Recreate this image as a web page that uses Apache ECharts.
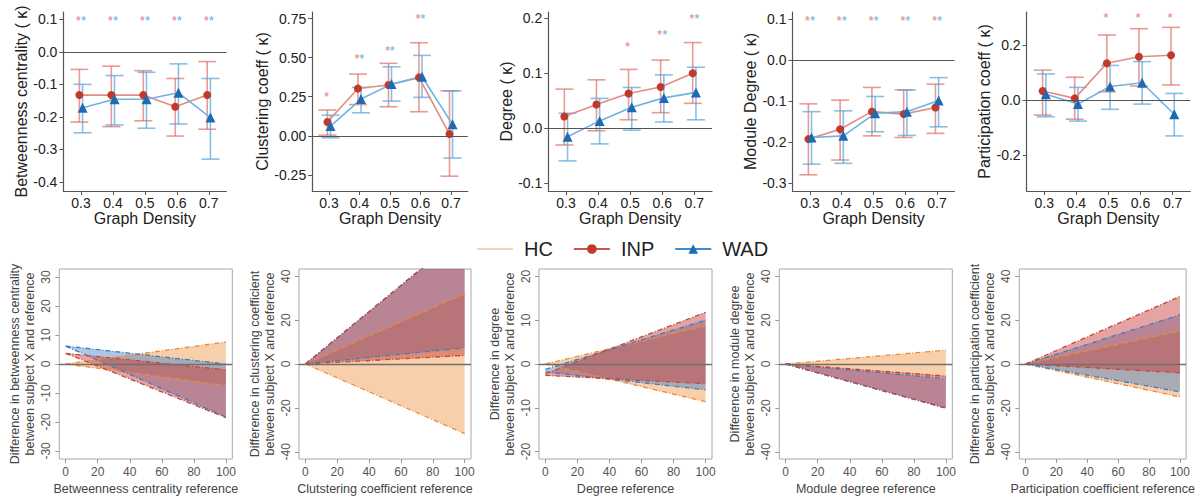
<!DOCTYPE html>
<html><head><meta charset="utf-8">
<script src="https://cdn.jsdelivr.net/npm/echarts@6/dist/echarts.min.js"></script>
<style>html,body{margin:0;padding:0;background:#fff}#c{width:1197px;height:504px}</style>
</head><body><div id="c"></div>
<script>
// ---------- top row: kappa by graph density ----------
const densities = [0.3, 0.4, 0.5, 0.6, 0.7];

const btwINP   = [-0.133, -0.133, -0.133, -0.169, -0.133];
const btwINPlo = [-0.216, -0.230, -0.212, -0.259, -0.238];
const btwINPhi = [-0.054, -0.044, -0.058, -0.082, -0.030];
const btwWAD   = [-0.172, -0.146, -0.146, -0.126, -0.202];
const btwWADlo = [-0.249, -0.225, -0.235, -0.222, -0.330];
const btwWADhi = [-0.100, -0.073, -0.063, -0.037, -0.082];
const btwStarINP = [0.1, 0.1, 0.1, 0.1, 0.1];
const btwStarWAD = [0.1, 0.1, 0.1, 0.1, 0.1];
const btwTicks = [-0.4, -0.3, -0.2, -0.1, 0, 0.1];

const cluINP   = [0.088, 0.303, 0.325, 0.374, 0.011];
const cluINPlo = [0.004, 0.200, 0.186, 0.154, -0.259];
const cluINPhi = [0.165, 0.395, 0.464, 0.596, 0.288];
const cluWAD   = [0.062, 0.235, 0.331, 0.378, 0.073];
const cluWADlo = [-0.013, 0.147, 0.222, 0.246, -0.143];
const cluWADhi = [0.132, 0.310, 0.442, 0.515, 0.288];
const cluStarINP = [0.26, 0.506, 0.556, 0.759, null];
const cluStarWAD = [null, 0.506, 0.556, 0.759, null];
const cluTicks = [-0.25, 0, 0.25, 0.5, 0.75];

const degINP   = [0.021, 0.043, 0.063, 0.075, 0.100];
const degINPlo = [-0.031, -0.005, 0.015, 0.028, 0.045];
const degINPhi = [0.071, 0.088, 0.107, 0.124, 0.156];
const degWAD   = [-0.016, 0.013, 0.038, 0.055, 0.065];
const degWADlo = [-0.060, -0.029, -0.004, 0.011, 0.015];
const degWADhi = [0.027, 0.054, 0.074, 0.097, 0.111];
const degStarINP = [null, null, 0.152, 0.173, 0.202];
const degStarWAD = [null, null, null, 0.173, 0.202];
const degTicks = [-0.1, 0, 0.1, 0.2];

const modINP   = [-0.193, -0.169, -0.126, -0.132, -0.116];
const modINPlo = [-0.280, -0.244, -0.185, -0.189, -0.179];
const modINPhi = [-0.107, -0.098, -0.067, -0.073, -0.059];
const modWAD   = [-0.189, -0.185, -0.130, -0.126, -0.099];
const modWADlo = [-0.254, -0.252, -0.175, -0.184, -0.163];
const modWADhi = [-0.126, -0.124, -0.089, -0.073, -0.043];
const modStarINP = [0.1, 0.1, 0.1, 0.1, 0.1];
const modStarWAD = [0.1, 0.1, 0.1, 0.1, 0.1];
const modTicks = [-0.3, -0.2, -0.1, 0, 0.1];

const parINP   = [0.033, 0.006, 0.134, 0.158, 0.163];
const parINPlo = [-0.055, -0.070, 0.030, 0.051, 0.055];
const parINPhi = [0.109, 0.083, 0.237, 0.260, 0.265];
const parWAD   = [0.021, -0.015, 0.049, 0.063, -0.052];
const parWADlo = [-0.061, -0.077, -0.034, -0.015, -0.131];
const parWADhi = [0.095, 0.046, 0.126, 0.140, 0.024];
const parStarINP = [null, null, 0.306, 0.306, 0.306];
const parStarWAD = [null, null, null, null, null];
const parTicks = [-0.2, 0, 0.2];

// ---------- bottom row: difference vs reference (band ends at reference 0 and 100) ----------
const refX = [0, 100];
const refTicks = [0, 20, 40, 60, 80, 100];

const bBtwHClo = [0, -7.4],  bBtwHChi = [0, 7.6];
const bBtwINPlo = [3.7, -18.5], bBtwINPhi = [3.7, -2.0];
const bBtwWADlo = [6.2, -18.3], bBtwWADhi = [6.2, 0.0];
const bBtwTicks = [-30, -20, -10, 0, 10, 20, 30];

const bCluHClo = [0, -31.7], bCluHChi = [0, 32.0];
const bCluINPlo = [0, 3.9],  bCluINPhi = [0, 59.8];
const bCluWADlo = [0, 7.4],  bCluWADhi = [0, 59.4];
const bCluTicks = [-40, -20, 0, 20, 40];

const bDegHClo = [0, -8.6],  bDegHChi = [0, 8.7];
const bDegINPlo = [-2.6, -4.5], bDegINPhi = [-2.2, 11.8];
const bDegWADlo = [-1.8, -5.9], bDegWADhi = [-1.2, 10.0];
const bDegTicks = [-20, -10, 0, 10, 20];

const bModHClo = [0, -6.0],  bModHChi = [0, 6.3];
const bModINPlo = [0, -20.0], bModINPhi = [0, -5.5];
const bModWADlo = [0, -20.2], bModWADhi = [0, -6.7];
const bModTicks = [-40, -20, 0, 20, 40];

const bParHClo = [0, -15.0], bParHChi = [0, 15.0];
const bParINPlo = [0, -4.0], bParINPhi = [0, 30.8];
const bParWADlo = [0, -12.7], bParWADhi = [0, 22.4];
const bParTicks = [-40, -20, 0, 20, 40];

// ---------- styling / layout ----------
const FONT = '"Liberation Sans", Arial, Helvetica, sans-serif';
const DODGE = 0.005, STAR_DODGE = 0.008;
const C = {
  inpPt: '#c0392b', inpLine: '#e48a80', inpErr: 'rgba(214,96,84,0.62)',
  wadPt: '#1f6bb3', wadLine: '#6fb2e2', wadErr: 'rgba(80,160,220,0.68)',
  hcLeg: '#f8d2b0',
  hcFill: 'rgba(238,135,45,0.40)', hcEdge: '#ee8a36',
  inpFill: 'rgba(200,50,50,0.45)', inpEdge: '#c4473d',
  wadFill: 'rgba(60,120,190,0.42)', wadEdge: '#3a7fc0'
};

const topPanels = [
  {yName: 'Betweenness centrality ( κ)', inp: [btwINP, btwINPlo, btwINPhi], wad: [btwWAD, btwWADlo, btwWADhi], star: [btwStarINP, btwStarWAD], ticks: btwTicks, dec: 1, yMin: -0.428, yMax: 0.1225, left: 63.4, width: 163, gap: 31},
  {yName: 'Clustering coeff ( κ)', inp: [cluINP, cluINPlo, cluINPhi], wad: [cluWAD, cluWADlo, cluWADhi], star: [cluStarINP, cluStarWAD], ticks: cluTicks, dec: 2, yMin: -0.354, yMax: 0.793, left: 312.2, width: 155.6, gap: 37},
  {yName: 'Degree ( κ)', inp: [degINP, degINPlo, degINPhi], wad: [degWAD, degWADlo, degWADhi], star: [degStarINP, degStarWAD], ticks: degTicks, dec: 1, yMin: -0.115, yMax: 0.2118, left: 548.3, width: 163.7, gap: 31},
  {yName: 'Module Degree ( κ)', inp: [modINP, modINPlo, modINPhi], wad: [modWAD, modWADlo, modWADhi], star: [modStarINP, modStarWAD], ticks: modTicks, dec: 1, yMin: -0.3195, yMax: 0.117, left: 792.5, width: 162, gap: 31.5},
  {yName: 'Participation coeff ( κ)', inp: [parINP, parINPlo, parINPhi], wad: [parWAD, parWADlo, parWADhi], star: [parStarINP, parStarWAD], ticks: parTicks, dec: 1, yMin: -0.332, yMax: 0.321, left: 1026.6, width: 163.7, gap: 31}
];

const botPanels = [
  {yName: 'Difference in betweenness centrality\nbetween subject X and reference', xName: 'Betweenness centrality reference', hc: [bBtwHClo, bBtwHChi], inp: [bBtwINPlo, bBtwINPhi], wad: [bBtwWADlo, bBtwWADhi], ticks: bBtwTicks, lim: 32.8, left: 59.3, width: 173},
  {yName: 'Difference in clustering coefficient\nbetween subject X and reference', xName: 'Clutstering coefficient reference', hc: [bCluHClo, bCluHChi], inp: [bCluINPlo, bCluINPhi], wad: [bCluWADlo, bCluWADhi], ticks: bCluTicks, lim: 43.3, left: 299.0, width: 172},
  {yName: 'Difference in degree\nbetween subject X and reference', xName: 'Degree reference', hc: [bDegHClo, bDegHChi], inp: [bDegINPlo, bDegINPhi], wad: [bDegWADlo, bDegWADhi], ticks: bDegTicks, lim: 21.7, left: 539.0, width: 173},
  {yName: 'Difference in module degree\nbetween subject X and reference', xName: 'Module degree reference', hc: [bModHClo, bModHChi], inp: [bModINPlo, bModINPhi], wad: [bModWADlo, bModWADhi], ticks: bModTicks, lim: 43.3, left: 779.3, width: 173},
  {yName: 'Difference in participation coefficient\nbetween subject X and reference', xName: 'Participation coefficient reference', hc: [bParHClo, bParHChi], inp: [bParINPlo, bParINPhi], wad: [bParWADlo, bParWADhi], ticks: bParTicks, lim: 43.3, left: 1019.3, width: 172.5}
];

const grids = [], xAxes = [], yAxes = [], series = [];

// legend-only HC entry
series.push({type: 'line', name: 'HC', data: [], xAxisIndex: 0, yAxisIndex: 0, symbol: 'none',
  lineStyle: {color: C.hcLeg, width: 2}, itemStyle: {color: C.hcLeg}});

function errSeries(gi, xs, lo, hi, color) {
  return {
    type: 'custom', xAxisIndex: gi, yAxisIndex: gi, silent: true, z: 2,
    data: xs.map((x, i) => [x, lo[i], hi[i]]), encode: {x: 0, y: [1, 2]},
    renderItem: (params, api) => {
      const x = api.value(0);
      const a = api.coord([x, api.value(2)]), b = api.coord([x, api.value(1)]);
      const hw = 9, st = {stroke: color, lineWidth: 1.6};
      return {type: 'group', children: [
        {type: 'line', shape: {x1: a[0], y1: a[1], x2: b[0], y2: b[1]}, style: st},
        {type: 'line', shape: {x1: a[0] - hw, y1: a[1], x2: a[0] + hw, y2: a[1]}, style: st},
        {type: 'line', shape: {x1: b[0] - hw, y1: b[1], x2: b[0] + hw, y2: b[1]}, style: st}
      ]};
    }
  };
}
function starSeries(gi, xs, ys, color) {
  const data = [];
  xs.forEach((x, i) => { if (ys[i] != null) data.push([x, ys[i]]); });
  return {
    type: 'custom', xAxisIndex: gi, yAxisIndex: gi, silent: true, z: 4, data,
    renderItem: (params, api) => {
      const c = api.coord([api.value(0), api.value(1)]);
      return {type: 'text', x: c[0], y: c[1] + 2, style: {text: '*', fill: color, fontSize: 12, fontWeight: 'bold',
        fontFamily: FONT, align: 'center', verticalAlign: 'middle'}};
    }
  };
}

topPanels.forEach((p, i) => {
  grids.push({left: p.left, top: 12, width: p.width, height: 179});
  xAxes.push({gridIndex: i, type: 'value', min: 0.245, max: 0.755,
    name: 'Graph Density', nameLocation: 'middle', nameGap: 18,
    nameTextStyle: {fontSize: 16, color: '#222', fontFamily: FONT},
    axisLine: {show: true, onZero: false, lineStyle: {color: '#555', width: 1.2}},
    axisTick: {show: true, length: 4, customValues: densities, lineStyle: {color: '#555'}},
    axisLabel: {customValues: densities, formatter: v => v.toFixed(1), fontSize: 14, color: '#222', margin: 5, fontFamily: FONT},
    splitLine: {show: false}});
  yAxes.push({gridIndex: i, type: 'value', min: p.yMin, max: p.yMax,
    name: p.yName, nameLocation: 'middle', nameGap: p.gap, nameRotate: 90,
    nameTextStyle: {fontSize: 16, color: '#222', fontFamily: FONT},
    axisLine: {show: true, onZero: false, lineStyle: {color: '#555', width: 1.2}},
    axisTick: {show: true, length: 4, customValues: p.ticks, lineStyle: {color: '#555'}},
    axisLabel: {customValues: p.ticks, formatter: v => v.toFixed(p.dec), fontSize: 14, color: '#222', margin: 6, fontFamily: FONT},
    splitLine: {show: false}});
  const xi = densities.map(d => d - DODGE), xw = densities.map(d => d + DODGE);
  series.push(errSeries(i, xi, p.inp[1], p.inp[2], C.inpErr));
  series.push(errSeries(i, xw, p.wad[1], p.wad[2], C.wadErr));
  series.push({type: 'line', name: 'INP', xAxisIndex: i, yAxisIndex: i, z: 3,
    data: xi.map((x, k) => [x, p.inp[0][k]]), symbol: 'circle', symbolSize: 8,
    lineStyle: {color: C.inpLine, width: 1.6}, itemStyle: {color: C.inpPt},
    markLine: {silent: true, symbol: 'none', label: {show: false},
      lineStyle: {color: '#555', width: 1.2, type: 'solid'}, data: [{yAxis: 0}]}});
  series.push({type: 'line', name: 'WAD', xAxisIndex: i, yAxisIndex: i, z: 3,
    data: xw.map((x, k) => [x, p.wad[0][k]]), symbol: 'triangle', symbolSize: 10,
    lineStyle: {color: C.wadLine, width: 1.6}, itemStyle: {color: C.wadPt}});
  series.push(starSeries(i, densities.map(d => d - STAR_DODGE), p.star[0], C.inpErr));
  series.push(starSeries(i, densities.map(d => d + STAR_DODGE), p.star[1], C.wadErr));
});

// shaded band between a lower and an upper line, drawn through the axes' scales
function bandFill(gi, lo, hi, fill) {
  return {
    type: 'custom', xAxisIndex: gi, yAxisIndex: gi, silent: true, clip: true, z: 2,
    data: refX.map((x, k) => [x, lo[k], hi[k]]), encode: {x: 0, y: [1, 2]},
    renderItem: (params, api) => {
      const i = params.dataIndexInside;
      if (i >= params.dataInsideLength - 1) return null;
      const x0 = api.value(0, i), x1 = api.value(0, i + 1);
      const pts = [
        api.coord([x0, api.value(1, i)]), api.coord([x1, api.value(1, i + 1)]),
        api.coord([x1, api.value(2, i + 1)]), api.coord([x0, api.value(2, i)])
      ];
      return {type: 'polygon', shape: {points: pts}, style: {fill: fill, stroke: 'none'}};
    }
  };
}
function edge(gi, vals, color) {
  return {type: 'line', xAxisIndex: gi, yAxisIndex: gi, silent: true, z: 3,
    data: refX.map((x, k) => [x, vals[k]]), symbol: 'none',
    lineStyle: {color: color, width: 1.3, type: [5, 2, 1, 2]}};
}

botPanels.forEach((p, j) => {
  const gi = 5 + j;
  grids.push({left: p.left, top: 269, width: p.width, height: 190, show: true, borderColor: '#a8a8a8', borderWidth: 1});
  xAxes.push({gridIndex: gi, type: 'value', min: -4, max: 104,
    name: p.xName, nameLocation: 'middle', nameGap: 23,
    nameTextStyle: {fontSize: 12.5, color: '#444', fontFamily: FONT},
    axisLine: {show: false, onZero: false},
    axisTick: {show: true, length: 4, customValues: refTicks, lineStyle: {color: '#999'}},
    axisLabel: {customValues: refTicks, fontSize: 12, color: '#555', margin: 7, fontFamily: FONT},
    splitLine: {show: false}});
  yAxes.push({gridIndex: gi, type: 'value', min: -p.lim, max: p.lim,
    name: p.yName, nameLocation: 'middle', nameGap: 22, nameRotate: 90,
    nameTextStyle: {fontSize: 12.5, color: '#444', lineHeight: 15, fontFamily: FONT},
    axisLine: {show: false, onZero: false},
    axisTick: {show: true, length: 4, customValues: p.ticks, lineStyle: {color: '#999'}},
    axisLabel: {customValues: p.ticks, rotate: 90, fontSize: 12, color: '#555', margin: 7, fontFamily: FONT},
    splitLine: {show: false}});
  series.push(bandFill(gi, p.hc[0], p.hc[1], C.hcFill));
  series.push(bandFill(gi, p.wad[0], p.wad[1], C.wadFill));
  series.push(bandFill(gi, p.inp[0], p.inp[1], C.inpFill));
  series.push(edge(gi, p.hc[0], C.hcEdge), edge(gi, p.hc[1], C.hcEdge));
  series.push(edge(gi, p.wad[0], C.wadEdge), edge(gi, p.wad[1], C.wadEdge));
  const last = edge(gi, p.inp[1], C.inpEdge);
  last.markLine = {silent: true, symbol: 'none', label: {show: false},
    lineStyle: {color: '#6f6f6f', width: 1.4, type: 'solid'}, data: [{yAxis: 0}]};
  series.push(edge(gi, p.inp[0], C.inpEdge), last);
});

const chart = echarts.init(document.getElementById('c'), null, {renderer: 'svg'});
chart.setOption({
  animation: false,
  backgroundColor: '#fff',
  textStyle: {fontFamily: FONT},
  legend: {
    left: 472, top: 234, itemWidth: 36, itemHeight: 12, itemGap: 20,
    textStyle: {fontSize: 20, color: '#222', fontFamily: FONT, padding: [0, 0, 0, 6]},
    data: [
      {name: 'HC', icon: 'path://M0,5 L36,5 L36,7 L0,7 Z', itemStyle: {color: C.hcLeg}},
      {name: 'INP', itemStyle: {color: C.inpPt}, lineStyle: {color: '#d35446', width: 2}},
      {name: 'WAD', itemStyle: {color: C.wadPt}, lineStyle: {color: '#3b8fd0', width: 2}}
    ]
  },
  grid: grids, xAxis: xAxes, yAxis: yAxes, series
});
</script></body></html>
